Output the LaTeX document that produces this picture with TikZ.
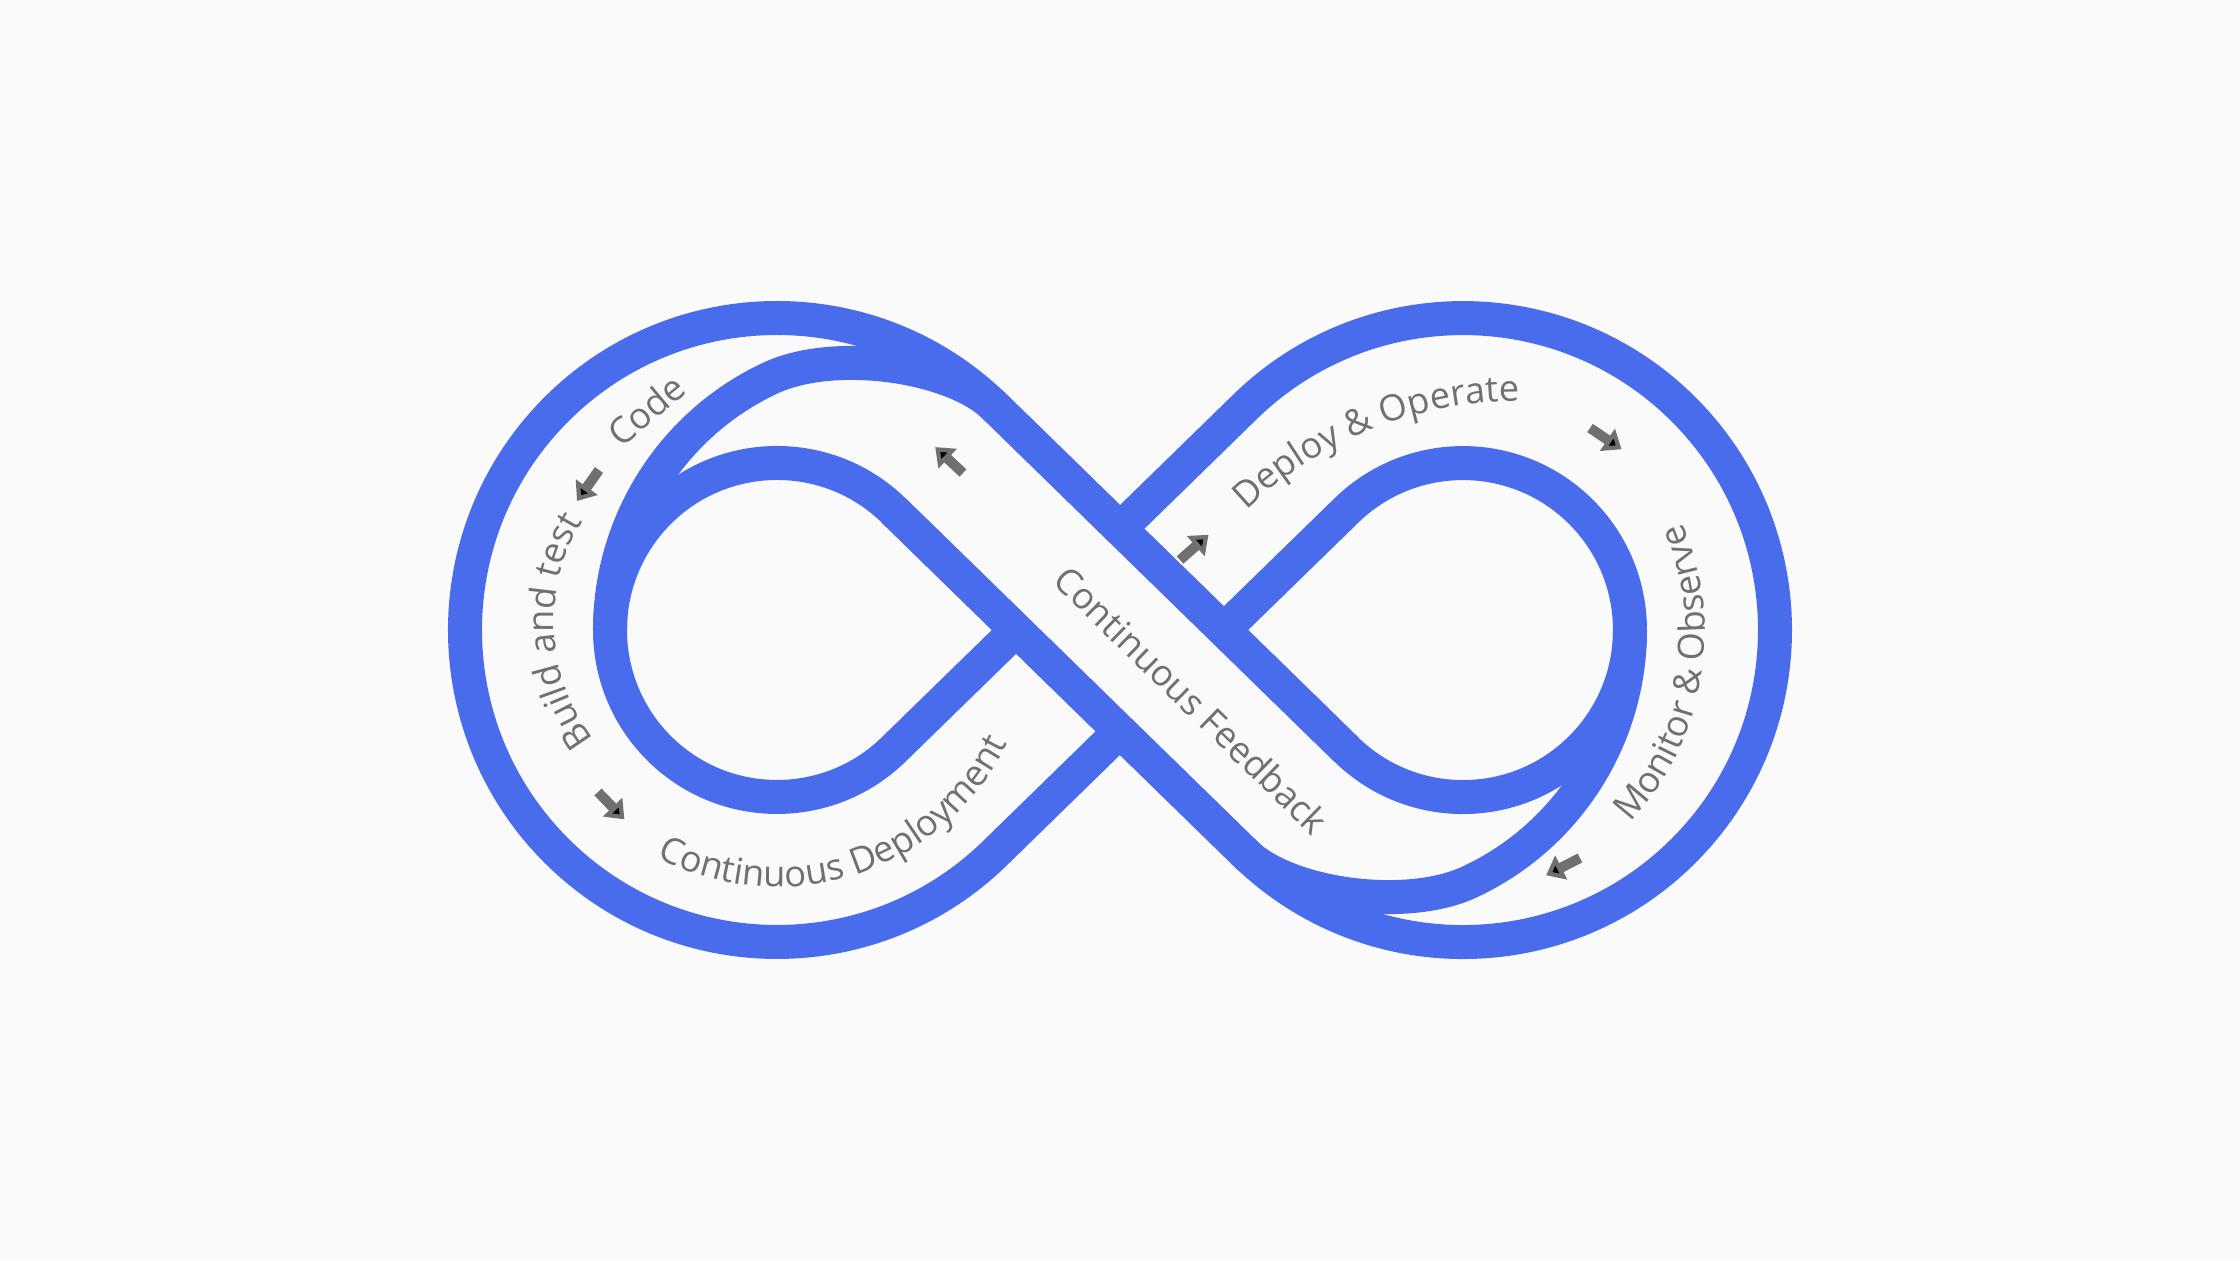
\documentclass[tikz,border=0pt]{standalone}
\usepackage{fontspec}
\setmainfont{Open Sans}
\usetikzlibrary{arrows.meta,decorations.text}

\definecolor{loopblue}{RGB}{72,108,236}
\definecolor{labelgray}{RGB}{112,112,112}
\definecolor{paper}{RGB}{250,250,250}
\newcommand\lblfont{\fontsize{10.3pt}{12pt}\selectfont}

\begin{document}
\begin{tikzpicture}[
    band/.style={draw=loopblue, line width=0.34cm, line join=round},
    lbl/.style={font=\lblfont, text=labelgray, inner sep=0pt},
    curvelbl/.style={decorate, decoration={text along path, text align=center,
                     text color=labelgray, text={|\lblfont|#1}}},
    flowarrow/.style={draw=labelgray, line width=0.1cm,
                      -{Triangle[width=0.26cm, length=0.17cm]}},
  ]

  % ===== Page =====
  \fill[paper] (-11.2,-6.3) rectangle (11.2,6.3);
  \useasboundingbox (-11.2,-6.3) rectangle (11.2,6.3);

  % ===== Loop bands (left half, then the same turned round) =====
  \foreach \turn in {0,180} {
    \begin{scope}[rotate=\turn]
      % outer loop, fed by the upper band
      \draw[band] (2.264,-1.196) -- (-1.252,2.234)
        arc[start angle=45.72, end angle=314.28, radius=3.12] -- (0,-1.012);
      % teardrop, leaving by the lower band
      \draw[band] (1.252,-2.234) -- (-2.264,1.196)
        arc[start angle=45.72, end angle=314.28, radius=1.67] -- (-1.038,0);
      % spiral from the band into the teardrop
      \draw[band] (-1.252,2.234) .. controls (-1.682,2.653) and (-2.861,2.816) .. (-3.495,2.520)
        arc[start angle=115, end angle=180, radius=2.78];
    \end{scope}
  }

  % ===== Labels =====
  \coordinate (buildc) at (-3.73,0.08);
  \coordinate (deplc) at (-3.43,0);
  \coordinate (operc) at (3.99,-1.65);
  \coordinate (monc) at (3.08,-0.03);

  \node[lbl, rotate=40] (code) at (-4.74,2.2) {Code};
  \path[curvelbl={Build and test}] ([shift={(228:1.93)}]buildc)
    arc[start angle=228, end angle=138, radius=1.93];
  \path[curvelbl={Continuous Deployment}] ([shift={(233:2.57)}]deplc)
    arc[start angle=233, end angle=343, radius=2.57];
  \path[curvelbl={Deploy {\&} Operate}] ([shift={(156.85:3.94)}]operc)
    arc[start angle=156.85, end angle=66.85, radius=3.94];
  \path[curvelbl={Monitor {\&} Observe}] ([shift={(-64.9:2.77)}]monc)
    arc[start angle=-64.9, end angle=45.1, radius=2.77];
  \node[lbl, rotate=-44.28] (feedback) at (0.716,-0.698) {Continuous Feedback};

  % ===== Flow arrows =====
  \foreach \x/\y/\a in {-5.21/1.60/234.6, -5.22/-1.62/-46, -1.57/1.57/137,
                        0.60/0.70/41.5, 4.70/2.02/-34, 4.60/-2.28/207}
    \draw[flowarrow] (\x,\y) -- ++(\a:0.38);

\end{tikzpicture}
\end{document}
